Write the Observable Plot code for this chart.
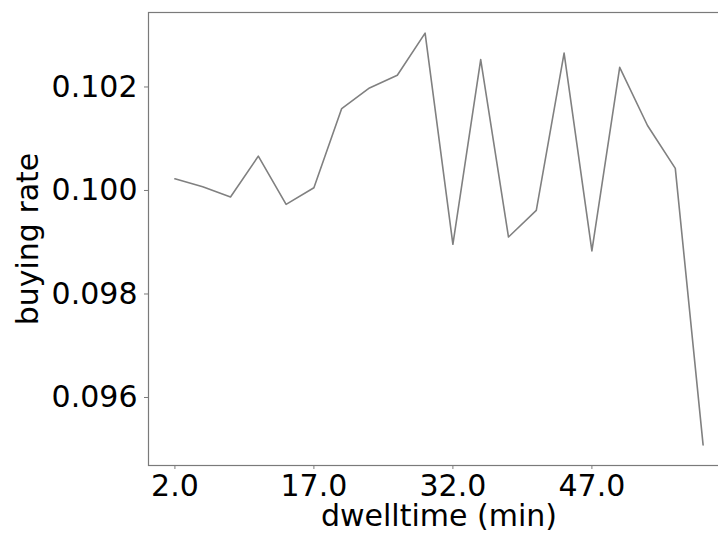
<!DOCTYPE html>
<html>
<head>
<meta charset="utf-8">
<script src="https://cdn.jsdelivr.net/npm/d3@7"></script>
<script src="https://cdn.jsdelivr.net/npm/@observablehq/plot@0.6"></script>
<style>
  html, body { margin: 0; padding: 0; background: white; overflow: hidden; }
  #chart svg { overflow: hidden; }
</style>
</head>
<body>
<div id="chart"></div>
<script>
const dwelltime = [2, 5, 8, 11, 14, 17, 20, 23, 26, 29, 32, 35, 38, 41, 44, 47, 50, 53, 56, 59];
const buyingRate = [0.100226, 0.100071, 0.099873, 0.100663, 0.099732, 0.100052, 0.101583, 0.101981, 0.102226, 0.103041,
                    0.098960, 0.102528, 0.099101, 0.099616, 0.102656, 0.098831, 0.102380, 0.101256, 0.100426, 0.095084];
const xTicks = [2, 17, 32, 47];
const yTicks = [0.096, 0.098, 0.100, 0.102];
const xLabel = "dwelltime (min)";
const yLabel = "buying rate";

const data = dwelltime.map((d, i) => ({dwell: d, rate: buyingRate[i]}));
const FONT = "DejaVu Sans";
const axisColor = "#7a7a7a";

const chart = Plot.plot({
  width: 718,
  height: 536,
  marginTop: 12,
  marginBottom: 71,
  marginLeft: 148,
  marginRight: -11,
  style: {fontFamily: FONT, fontSize: "30px", color: "black", background: "white"},
  x: {domain: [-0.85, 61.85]},
  y: {domain: [0.094686, 0.103439]},
  marks: [
    Plot.frame({stroke: axisColor, strokeWidth: 1.2}),
    Plot.axisX(xTicks, {tickFormat: d3.format(".1f"), tickSize: 4, tickPadding: 5, stroke: axisColor, fill: "black", fontSize: 30, label: null}),
    Plot.axisY(yTicks, {tickFormat: d3.format(".3f"), tickSize: 4, tickPadding: 7, stroke: axisColor, fill: "black", fontSize: 30, label: null}),
    Plot.line(data, {x: "dwell", y: "rate", stroke: "#808080", strokeWidth: 1.6}),
    Plot.text([xLabel], {frameAnchor: "bottom", text: d => d, lineAnchor: "bottom", dy: 60, fontSize: 30, fill: "black"}),
    Plot.text([yLabel], {frameAnchor: "left", text: d => d, rotate: -90, textAnchor: "middle", lineAnchor: "middle", dx: -120, fontSize: 30, fill: "black"})
  ]
});
document.getElementById("chart").appendChild(chart);
</script>
</body>
</html>
